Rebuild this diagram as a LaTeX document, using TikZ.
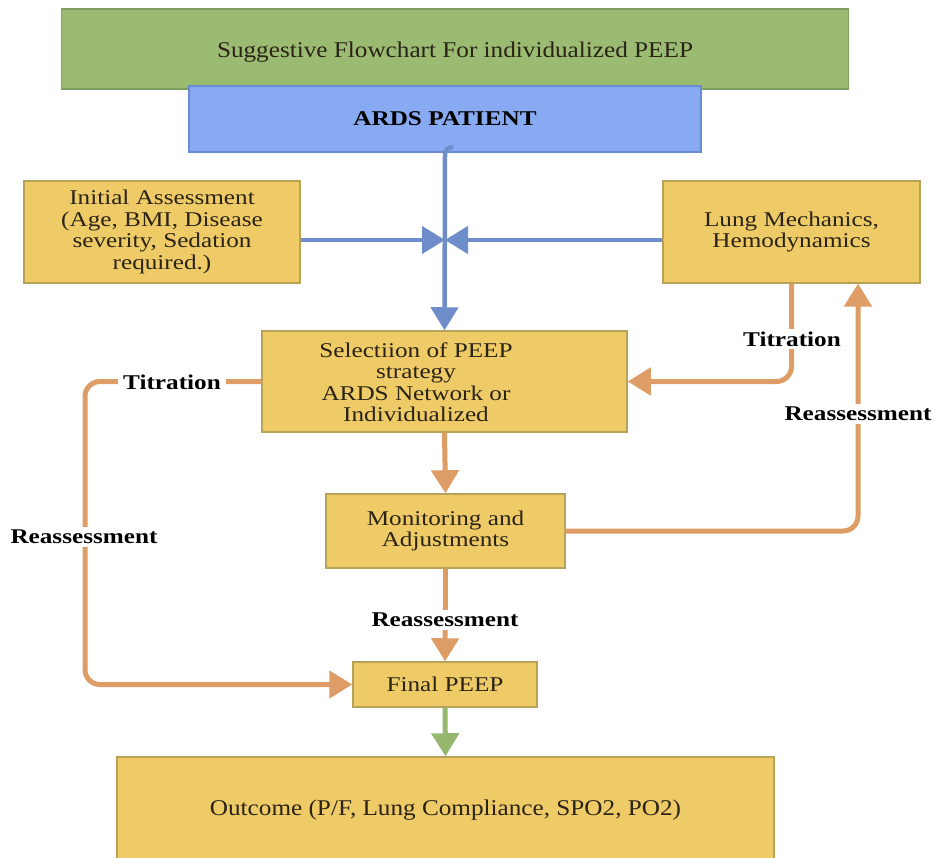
\documentclass[tikz,border=0pt]{standalone}
\usepackage{fontspec}
\setmainfont{Liberation Serif}[FakeStretch=1.2]
\newfontfamily\myNarrow{Liberation Serif}[FakeStretch=1.12]
\usetikzlibrary{arrows.meta}
\definecolor{gfill}{HTML}{9BBB72}
\definecolor{gbord}{HTML}{80A060}
\definecolor{bfill}{HTML}{87AAF2}
\definecolor{bbord}{HTML}{6B8BD0}
\definecolor{yfill}{HTML}{EECB67}
\definecolor{ybord}{HTML}{B8A259}
\definecolor{oarr}{HTML}{DE9C66}
\definecolor{barr}{HTML}{6F8DCB}
\definecolor{garr}{HTML}{95B86E}
\definecolor{txt}{HTML}{2A2316}
\newcommand\myBody{\fontsize{21}{21.5}\selectfont}
\newcommand\myBig{\myNarrow\fontsize{22.5}{24}\selectfont}
\begin{document}
\begin{tikzpicture}[x=1pt,y=-1pt,
  box/.style={draw=ybord, fill=yfill, line width=1.5pt, inner sep=0pt, align=center, text=txt, font=\myBody},
  txtonly/.style={inner sep=0pt, align=center, text=txt, font=\myBody},
  lbl/.style={fill=white, inner sep=3pt, text=black, font=\bfseries\myBody},
  oline/.style={draw=oarr, line width=5pt, rounded corners=15pt},
  bline/.style={draw=barr, line width=4.5pt},
  gline/.style={draw=garr, line width=5pt},
  tip/.style={-{Triangle[length=23pt,width=27pt]}}
]
\clip (0,0) rectangle (936,857);
\fill[white] (0,0) rectangle (936,857);

% boxes
\node[draw=gbord, fill=gfill, line width=1.5pt, minimum width=787pt, minimum height=80pt, inner sep=0pt, text=txt, font=\myBig] (title) at (455,49) {};
\node[txtonly, font=\myBig] (titletext) at (455,52) {Suggestive Flowchart For individualized PEEP};
\node[draw=bbord, fill=bfill, line width=1.5pt, minimum width=512pt, minimum height=66pt, inner sep=0pt, text=black, font=\bfseries\myBody] (ards) at (445,119) {ARDS PATIENT};
\node[box, minimum width=276pt, minimum height=102pt] (init) at (162,232) {Initial Assessment\\(Age, BMI, Disease\\severity, Sedation\\required.)};
\node[box, minimum width=257pt, minimum height=102pt] (lung) at (791.5,232) {Lung Mechanics,\\Hemodynamics};
\node[box, minimum width=365pt, minimum height=101pt] (sel) at (444.5,381.5) {};
\node[txtonly] (seltext) at (416,382) {Selectiion of PEEP\\strategy\\ARDS Network or\\Individualized};
\node[box, minimum width=239pt, minimum height=74pt] (mon) at (445.5,531) {Monitoring and\\Adjustments};
\node[box, minimum width=184pt, minimum height=45pt] (fin) at (445,684.5) {Final PEEP};
\node[box, minimum width=657pt, minimum height=110pt] (out) at (445.5,812) {};
\node[txtonly, font=\myBig] (outtext) at (445.5,810) {Outcome (P/F, Lung Compliance, SPO2, PO2)};

% blue connectors
\coordinate (cross) at (445,240);
\coordinate (hook) at (453,147);
\draw[bline, tip] (hook) to[out=180,in=90] (445,154) -- (sel.north);
\draw[bline, tip] (init.east |- cross) -- (cross);
\draw[bline, tip] (lung.west |- cross) -- (cross);

% orange connectors
\coordinate (lr) at (858,283.5);
\coordinate (lc) at (85,0);
\draw[oline, tip] (sel.south) -- (mon.north);
\draw[oline, tip] (mon.south) -- (fin.north);
\draw[oline, tip] (lung.south) |- (sel.east);
\draw[oline, tip] (mon.east) -| (lr);
\draw[oline, tip] (sel.west) -| (lc |- fin.west) -- (fin.west);

% green connector
\draw[gline, tip] (fin.south) -- (out.north);

% labels
\node[lbl] (l1) at (445,620) {Reassessment};
\node[lbl] (l2) at (792,339) {Titration};
\node[lbl] (l3) at (858,414) {Reassessment};
\node[lbl, inner xsep=5pt] (l4) at (172,382) {Titration};
\node[lbl] (l5) at (84,537) {Reassessment};
\end{tikzpicture}
\end{document}
